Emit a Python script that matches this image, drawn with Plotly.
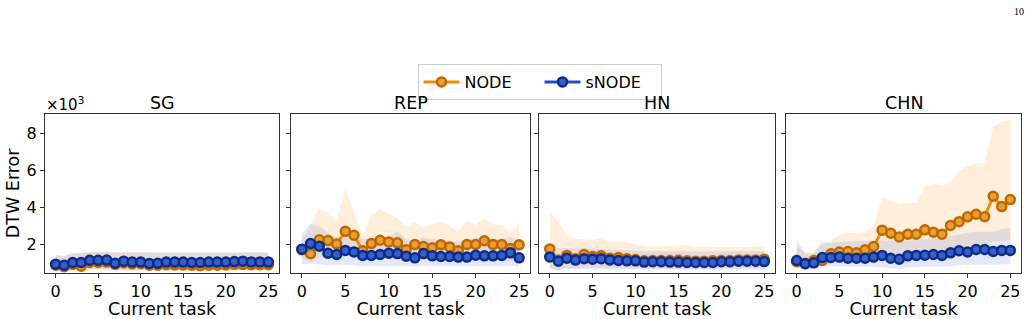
import plotly.graph_objects as go

tasks = list(range(26))
panels = ["SG", "REP", "HN", "CHN"]

# NODE means (x10^3)
node_sg = [0.90, 0.82, 0.95, 0.85, 1.05, 1.05, 1.07, 0.95, 1.02, 0.97, 0.98, 0.90, 0.90, 0.93, 0.92,
           0.92, 0.90, 0.88, 0.90, 0.90, 0.92, 0.95, 0.95, 0.93, 0.93, 0.93]
node_rep = [1.73, 1.52, 2.27, 2.23, 2.05, 2.73, 2.52, 1.68, 2.07, 2.25, 2.16, 2.11, 1.73, 2.02, 1.91,
            1.84, 2.00, 1.89, 1.68, 2.02, 2.02, 2.22, 2.02, 2.02, 1.80, 2.00]
node_hn = [1.78, 1.19, 1.43, 1.25, 1.48, 1.37, 1.41, 1.28, 1.32, 1.25, 1.21, 1.14, 1.16, 1.16, 1.16,
           1.17, 1.14, 1.12, 1.12, 1.14, 1.16, 1.16, 1.19, 1.19, 1.19, 1.23]
node_chn = [1.09, 1.01, 1.16, 1.16, 1.52, 1.61, 1.64, 1.57, 1.73, 1.91, 2.79, 2.63, 2.43, 2.57, 2.57,
            2.81, 2.68, 2.57, 3.04, 3.25, 3.51, 3.65, 3.52, 4.62, 4.06, 4.44]

# sNODE means (x10^3)
snode_sg = [0.96, 0.90, 1.05, 1.05, 1.17, 1.17, 1.18, 1.01, 1.12, 1.07, 1.07, 1.00, 1.01, 1.07, 1.07,
            1.07, 1.05, 1.05, 1.07, 1.07, 1.07, 1.10, 1.12, 1.08, 1.08, 1.07]
snode_rep = [1.77, 2.07, 1.93, 1.55, 1.48, 1.70, 1.62, 1.43, 1.43, 1.48, 1.55, 1.53, 1.39, 1.30, 1.53,
             1.41, 1.37, 1.37, 1.34, 1.34, 1.44, 1.41, 1.41, 1.43, 1.57, 1.30]
snode_hn = [1.35, 1.12, 1.28, 1.18, 1.25, 1.23, 1.25, 1.19, 1.16, 1.14, 1.14, 1.07, 1.09, 1.09, 1.07,
            1.07, 1.05, 1.05, 1.05, 1.05, 1.09, 1.09, 1.12, 1.12, 1.12, 1.10]
snode_chn = [1.16, 0.98, 1.03, 1.32, 1.32, 1.34, 1.28, 1.28, 1.28, 1.34, 1.43, 1.28, 1.23, 1.41, 1.43,
             1.44, 1.48, 1.43, 1.57, 1.68, 1.62, 1.75, 1.75, 1.64, 1.70, 1.70]

# NODE band (upper / lower)
node_sg_hi = [1.41, 1.37, 1.55, 1.58, 1.60, 1.62, 1.64, 1.62, 1.60, 1.60, 1.58, 1.56, 1.56, 1.58, 1.58,
              1.57, 1.57, 1.56, 1.56, 1.57, 1.58, 1.58, 1.58, 1.58, 1.58, 1.58]
node_sg_lo = [0.60, 0.55, 0.60, 0.55, 0.62, 0.62, 0.62, 0.60, 0.60, 0.60, 0.60, 0.58, 0.58, 0.58, 0.58,
              0.58, 0.58, 0.57, 0.57, 0.58, 0.58, 0.60, 0.60, 0.60, 0.60, 0.60]
node_rep_hi = [2.20, 3.07, 3.97, 3.70, 3.29, 5.03, 3.79, 2.50, 3.61, 3.92, 3.67, 3.45, 2.99, 3.20, 2.93,
               3.13, 3.27, 3.02, 2.72, 3.31, 3.06, 3.42, 3.13, 3.06, 2.63, 3.22]
node_rep_lo = [1.30, 1.03, 1.30, 1.30, 1.25, 1.40, 1.35, 1.10, 1.25, 1.30, 1.25, 1.25, 1.15, 1.20, 1.20,
               1.15, 1.20, 1.15, 1.10, 1.20, 1.20, 1.25, 1.20, 1.20, 1.10, 1.20]
node_hn_hi = [3.70, 3.25, 2.54, 2.30, 2.30, 2.27, 2.40, 2.18, 2.18, 2.14, 2.04, 1.91, 1.91, 1.95, 1.93,
              1.96, 1.98, 1.91, 1.89, 1.88, 1.88, 1.88, 1.88, 1.89, 1.93, 1.95]
node_hn_lo = [0.78, 0.65, 0.76, 0.72, 0.78, 0.76, 0.76, 0.74, 0.74, 0.74, 0.74, 0.72, 0.72, 0.72, 0.72,
              0.72, 0.72, 0.70, 0.70, 0.72, 0.72, 0.72, 0.74, 0.74, 0.74, 0.76]
node_chn_hi = [1.90, 1.60, 1.65, 2.00, 2.20, 2.55, 2.65, 2.65, 2.70, 3.00, 4.56, 4.40, 4.20, 4.25, 4.25,
               5.15, 5.30, 5.20, 5.40, 6.00, 6.25, 6.40, 6.40, 8.35, 8.65, 8.70]
node_chn_lo = [0.75, 0.70, 0.75, 0.85, 1.00, 1.05, 1.05, 1.05, 1.10, 1.15, 1.50, 1.45, 1.40, 1.45, 1.45,
               1.55, 1.55, 1.55, 1.70, 1.80, 1.90, 1.95, 1.95, 2.20, 2.20, 2.30]

# sNODE band (upper / lower)
snode_sg_hi = [1.45, 1.40, 1.55, 1.58, 1.62, 1.62, 1.62, 1.58, 1.60, 1.60, 1.58, 1.56, 1.56, 1.58, 1.58,
               1.58, 1.58, 1.58, 1.58, 1.60, 1.60, 1.60, 1.62, 1.62, 1.62, 1.60]
snode_sg_lo = [0.62, 0.58, 0.65, 0.62, 0.68, 0.68, 0.68, 0.64, 0.66, 0.64, 0.64, 0.62, 0.62, 0.64, 0.64,
               0.64, 0.62, 0.62, 0.62, 0.62, 0.64, 0.66, 0.66, 0.66, 0.66, 0.66]
snode_rep_hi = [2.60, 3.15, 3.00, 2.65, 2.40, 2.45, 2.45, 2.30, 2.35, 2.35, 2.40, 2.75, 2.30, 2.25, 2.40,
                2.30, 2.25, 2.20, 2.20, 2.30, 2.35, 2.35, 2.30, 2.30, 2.40, 2.20]
snode_rep_lo = [0.95, 1.00, 0.95, 0.90, 0.88, 0.90, 0.90, 0.85, 0.85, 0.88, 0.88, 0.88, 0.85, 0.82, 0.88,
                0.85, 0.85, 0.85, 0.82, 0.82, 0.85, 0.85, 0.85, 0.85, 0.88, 0.82]
snode_hn_hi = [2.00, 1.80, 1.85, 1.80, 1.82, 1.80, 1.80, 1.75, 1.72, 1.70, 1.70, 1.65, 1.66, 1.66, 1.65,
               1.65, 1.64, 1.64, 1.64, 1.64, 1.66, 1.66, 1.68, 1.68, 1.68, 1.66]
snode_hn_lo = [0.72, 0.60, 0.70, 0.66, 0.70, 0.70, 0.70, 0.68, 0.68, 0.66, 0.66, 0.64, 0.66, 0.66, 0.64,
               0.64, 0.64, 0.64, 0.64, 0.64, 0.66, 0.66, 0.68, 0.68, 0.68, 0.66]
snode_chn_hi = [2.27, 1.50, 1.55, 2.20, 2.10, 2.15, 2.20, 2.20, 2.20, 2.20, 2.25, 2.20, 2.20, 2.25, 2.25,
                2.30, 2.35, 2.35, 2.45, 2.55, 2.65, 2.70, 2.70, 2.70, 2.85, 2.90]
snode_chn_lo = [0.80, 0.65, 0.70, 0.85, 0.85, 0.85, 0.82, 0.82, 0.82, 0.82, 0.80, 0.75, 0.70, 0.80, 0.80,
                0.82, 0.82, 0.82, 0.85, 0.92, 0.92, 0.95, 0.95, 0.95, 0.95, 0.95]

y_ticks = [2, 4, 6, 8]
x_ticks = [0, 5, 10, 15, 20, 25]

node_mean = [node_sg, node_rep, node_hn, node_chn]
snode_mean = [snode_sg, snode_rep, snode_hn, snode_chn]
node_hi = [node_sg_hi, node_rep_hi, node_hn_hi, node_chn_hi]
node_lo = [node_sg_lo, node_rep_lo, node_hn_lo, node_chn_lo]
snode_hi = [snode_sg_hi, snode_rep_hi, snode_hn_hi, snode_chn_hi]
snode_lo = [snode_sg_lo, snode_rep_lo, snode_hn_lo, snode_chn_lo]

W, H = 1034, 319
px_domains = [(45, 279), (291, 530), (539, 775), (786, 1021)]
y_top, y_bot = 114, 272.7
ydom = [(H - y_bot) / H, (H - y_top) / H]

FONT = "DejaVu Sans, sans-serif"
ORANGE_LINE = "#F28C00"
ORANGE_FACE = "#E8A030"
ORANGE_EDGE = "#C06800"
ORANGE_BAND = "rgba(255,140,0,0.15)"
BLUE_LINE = "#1D4FCB"
BLUE_FACE = "#3560C8"
BLUE_EDGE = "#0B2C8C"
BLUE_BAND = "rgba(65,105,225,0.15)"

fig = go.Figure()
layout = dict(width=W, height=H, margin=dict(l=0, r=0, t=0, b=0),
              paper_bgcolor="white", plot_bgcolor="white",
              font=dict(family=FONT, size=16, color="black"))

annotations = []
for i in range(4):
    xa = "x" if i == 0 else f"x{i+1}"
    ya = "y" if i == 0 else f"y{i+1}"
    xkey = "xaxis" if i == 0 else f"xaxis{i+1}"
    ykey = "yaxis" if i == 0 else f"yaxis{i+1}"
    d0, d1 = px_domains[i]
    layout[xkey] = dict(domain=[d0 / W, d1 / W], anchor=ya, range=[-1.25, 26.25],
                        tickvals=x_ticks, ticks="outside", ticklen=4, tickcolor="#333",
                        showline=True, linecolor="#333", linewidth=1, mirror=True,
                        showgrid=False, zeroline=False, tickfont=dict(size=16),
                        title=dict(text="Current task", font=dict(size=17.5), standoff=0))
    layout[ykey] = dict(domain=ydom, anchor=xa, range=[0.5, 9.05],
                        tickvals=y_ticks, ticks="outside", ticklen=4, tickcolor="#333",
                        showline=True, linecolor="#333", linewidth=1, mirror=True,
                        showgrid=False, zeroline=False, tickfont=dict(size=16),
                        showticklabels=(i == 0))
    if i == 0:
        layout[ykey]["title"] = dict(text="DTW Error", font=dict(size=17.5), standoff=2)

    # bands
    fig.add_trace(go.Scatter(x=tasks + tasks[::-1], y=node_hi[i] + node_lo[i][::-1],
                             fill="toself", fillcolor=ORANGE_BAND, line=dict(width=0),
                             mode="lines", hoverinfo="skip", showlegend=False, xaxis=xa, yaxis=ya))
    fig.add_trace(go.Scatter(x=tasks + tasks[::-1], y=snode_hi[i] + snode_lo[i][::-1],
                             fill="toself", fillcolor=BLUE_BAND, line=dict(width=0),
                             mode="lines", hoverinfo="skip", showlegend=False, xaxis=xa, yaxis=ya))
    # lines
    fig.add_trace(go.Scatter(x=tasks, y=node_mean[i], mode="lines+markers", name="NODE",
                             line=dict(color=ORANGE_LINE, width=3),
                             marker=dict(size=9, color=ORANGE_FACE, line=dict(color=ORANGE_EDGE, width=2.5)),
                             showlegend=(i == 0), xaxis=xa, yaxis=ya))
    fig.add_trace(go.Scatter(x=tasks, y=snode_mean[i], mode="lines+markers", name="sNODE",
                             line=dict(color=BLUE_LINE, width=3),
                             marker=dict(size=9, color=BLUE_FACE, line=dict(color=BLUE_EDGE, width=2.5)),
                             showlegend=(i == 0), xaxis=xa, yaxis=ya))

    annotations.append(dict(text=panels[i], x=(d0 + d1) / 2 / W, y=(H - 103) / H,
                            xref="paper", yref="paper", showarrow=False,
                            font=dict(size=17.5), xanchor="center", yanchor="middle"))

annotations.append(dict(text="×10<sup>3</sup>", x=44 / W, y=(H - 104) / H, xref="paper", yref="paper",
                        showarrow=False, font=dict(size=15), xanchor="left", yanchor="middle"))
annotations.append(dict(text="10", x=1026 / W, y=(H - 12) / H, xref="paper", yref="paper",
                        showarrow=False, font=dict(size=10, family="Liberation Serif, serif"),
                        xanchor="right", yanchor="middle"))

layout["annotations"] = annotations
layout["legend"] = dict(orientation="h", x=539.5 / W, xanchor="center", y=(H - 64) / H, yanchor="top",
                        bordercolor="#cccccc", borderwidth=1, bgcolor="white",
                        font=dict(size=16), itemwidth=36, entrywidth=70, entrywidthmode="pixels",
                        tracegroupgap=0)
layout["showlegend"] = True
fig.update_layout(**layout)
fig.write_html("out.html")
